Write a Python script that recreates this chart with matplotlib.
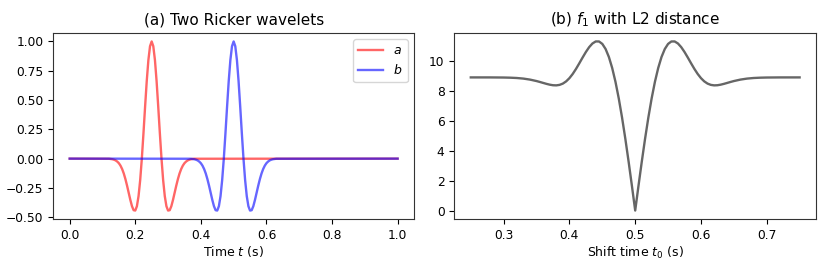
import matplotlib
matplotlib.use("Agg")
import matplotlib.pyplot as plt
import numpy as np

# --- data ---
# Ricker wavelet a (centred at 0.25 s), sampled every 5 ms over its support
t_a = np.concatenate([[0.0], np.linspace(0.12, 0.38, 53), [1.0]])
# Ricker wavelet b (centred at 0.50 s)
t_b = np.concatenate([[0.0], np.linspace(0.37, 0.63, 53), [1.0]])

# one side of the wavelet, from the peak outwards (5 ms steps)
half_shape = [1.000, 0.959, 0.841, 0.662, 0.445, 0.216, 0.000, -0.183, -0.320,
              -0.406, -0.443, -0.440, -0.406, -0.353, -0.292, -0.231, -0.175,
              -0.127, -0.089, -0.060, -0.039, -0.025, -0.015, -0.009, -0.005,
              -0.003, -0.001]
a_vals = [0.0] + half_shape[:0:-1] + half_shape + [0.0]
b_vals = [0.0] + half_shape[:0:-1] + half_shape + [0.0]

# L2 distance between shifted a and b, right half (offset from 0.5 s)
shift_off = [0.000, 0.005, 0.010, 0.015, 0.020, 0.025, 0.030, 0.035, 0.040,
             0.045, 0.050, 0.055, 0.060, 0.065, 0.070, 0.075, 0.080, 0.085,
             0.090, 0.095, 0.100, 0.105, 0.110, 0.115, 0.120, 0.125, 0.130,
             0.135, 0.140, 0.145, 0.150, 0.160, 0.170, 0.180, 0.190, 0.200,
             0.220, 0.250]
dist_half = [0.000, 1.657, 3.275, 4.813, 6.239, 7.521, 8.635, 9.564, 10.298,
             10.834, 11.177, 11.340, 11.342, 11.205, 10.959, 10.634, 10.262,
             9.875, 9.500, 9.163, 8.881, 8.664, 8.515, 8.429, 8.396, 8.405,
             8.443, 8.498, 8.561, 8.625, 8.685, 8.783, 8.850, 8.890, 8.911,
             8.922, 8.929, 8.930]
t0 = [0.5 - s for s in shift_off[:0:-1]] + [0.5 + s for s in shift_off]
l2_dist = dist_half[:0:-1] + dist_half

plt.rcParams['font.size'] = 9
plt.rcParams['xtick.labelsize'] = 8.8
plt.rcParams['ytick.labelsize'] = 8.8
plt.rcParams['axes.edgecolor'] = '#333333'

fig = plt.figure(figsize=(8.3, 2.77), dpi=100)
ax1 = fig.add_axes([0.0642, 0.2094, 0.4346, 0.6715])
ax2 = fig.add_axes([0.5474, 0.2094, 0.4358, 0.6715])

ax1.plot(t_a, a_vals, color='r', alpha=0.6, lw=1.7, label='$a$')
ax1.plot(t_b, b_vals, color='b', alpha=0.6, lw=1.7, label='$b$')
ax1.set_xlabel('Time $t$ (s)', labelpad=2)
ax1.set_title('(a) Two Ricker wavelets', fontsize=11)
ax1.legend(loc='upper right')

ax2.plot(t0, l2_dist, color='k', alpha=0.6, lw=1.7)
ax2.set_xlabel('Shift time $t_0$ (s)', labelpad=2)
ax2.set_title('(b) $f_1$ with L2 distance', fontsize=11)

fig.savefig('out.png', dpi=100)
